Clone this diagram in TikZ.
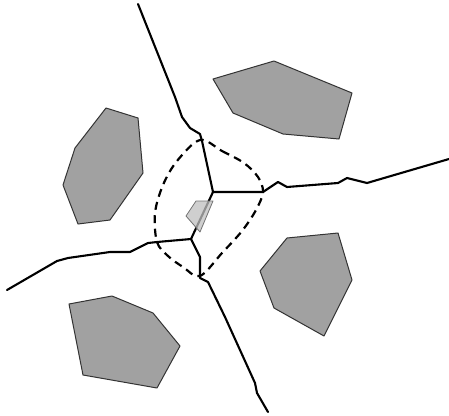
\documentclass[tikz,border=0pt]{standalone}
\begin{document}
\begin{tikzpicture}[x=1pt,y=-1pt,
  cell/.style={fill=black!37,draw=black!80,line width=1pt,line join=round},
  site/.style={fill=black!25,fill opacity=0.75,draw=black!55,line width=0.8pt,line join=round},
  edge/.style={line width=2.1pt,line join=round,line cap=round},
  region/.style={line width=2.2pt,dash pattern=on 8pt off 5.5pt}]
\useasboundingbox (0,0) rectangle (449,415);
% cells
\draw[cell] (106,108) -- (138,118) -- (143,173) -- (110,220) -- (78,224) -- (63,185) -- (75,148) -- cycle;
\draw[cell] (213,79) -- (274,61) -- (352,93) -- (339,139) -- (283,134) -- (233,113) -- cycle;
\draw[cell] (287,238) -- (338,233) -- (352,280) -- (324,336) -- (274,308) -- (260,271) -- cycle;
\draw[cell] (69,304) -- (112,296) -- (153,313) -- (180,346) -- (157,388) -- (83,375) -- cycle;
% junctions
\coordinate (J1) at (213,192);
\coordinate (J2) at (191,239);
\coordinate (T) at (138,4);
\coordinate (R) at (449,159);
\coordinate (L) at (7,290);
\coordinate (B) at (268,412);
% edges
\draw[edge] (T) -- (175,97) -- (182,117) -- (190,128) -- (200,134) -- (202,141) -- (J1);
\draw[edge] (J1) -- (263,192) -- (278,182) -- (287,187) -- (338,183) -- (347,178) -- (367,183) -- (R);
\draw[edge] (J1) -- (J2);
\draw[edge] (J2) -- (157,242) -- (148,243) -- (130,252) -- (110,252) -- (68,258) -- (57,261) -- (L);
\draw[edge] (J2) -- (200,257) -- (200,278) -- (208,282) -- (225,317) -- (255,383) -- (257,393) -- (B);
% small site polygon
\draw[site] (196,201) -- (213,201) -- (200,232) -- (186,216) -- cycle;
% dashed region
\draw[region] plot[smooth cycle,tension=0.55] coordinates {(200,140) (222,151) (244,163) (258,177) (263,192) (256,210) (242,231) (222,253) (200,276) (183,267) (168,256) (157,242) (155,213) (163,185) (177,161)};
\end{tikzpicture}
\end{document}
